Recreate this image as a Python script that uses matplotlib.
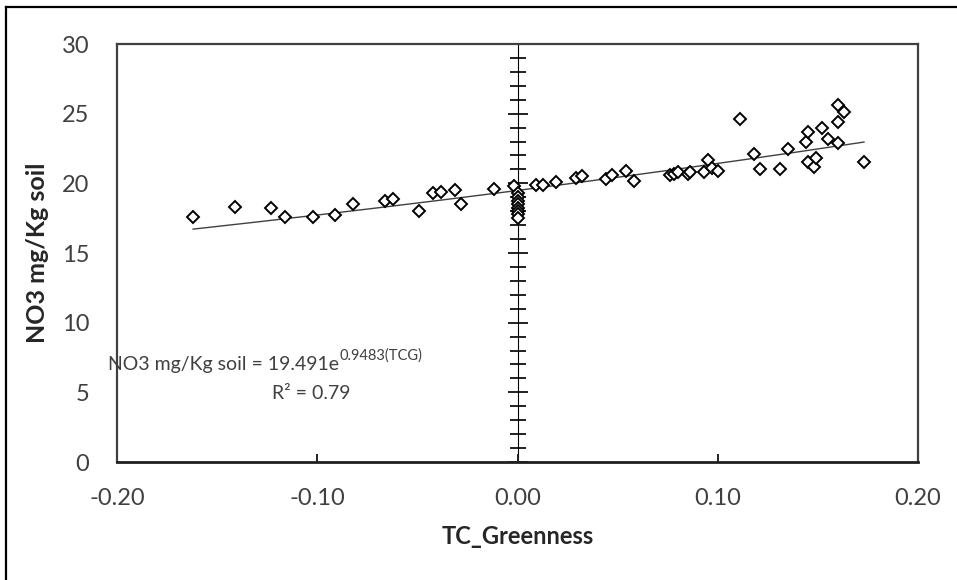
import numpy as np
import matplotlib
matplotlib.use("Agg")
import matplotlib.pyplot as plt
from matplotlib.lines import Line2D
from matplotlib.ticker import MultipleLocator

plt.rcParams['font.family'] = ['Lato', 'DejaVu Sans']

# TC greenness vs soil nitrate
tcg = [-0.162, -0.141, -0.123, -0.116, -0.102, -0.091, -0.082, -0.066, -0.062,
       -0.049, -0.042, -0.038, -0.031, -0.028, -0.012, -0.002,
       0.000, 0.000, 0.000, 0.000, 0.000, 0.000, 0.000, 0.000,
       0.009, 0.0125, 0.019, 0.029, 0.032, 0.044, 0.047, 0.054, 0.058,
       0.076, 0.078, 0.080, 0.085, 0.086, 0.093, 0.095, 0.097, 0.100,
       0.111, 0.118, 0.121, 0.131, 0.135, 0.144, 0.145, 0.145, 0.148, 0.149,
       0.152, 0.155, 0.160, 0.163, 0.160, 0.160, 0.173]
no3 = [17.6, 18.3, 18.2, 17.6, 17.6, 17.7, 18.5, 18.7, 18.9,
       18.0, 19.3, 19.4, 19.5, 18.5, 19.6, 19.8,
       19.3, 19.0, 18.7, 18.5, 18.2, 18.0, 17.8, 17.5,
       19.9, 19.9, 20.1, 20.4, 20.5, 20.3, 20.6, 20.9, 20.2,
       20.6, 20.7, 20.8, 20.7, 20.8, 20.8, 21.7, 21.1, 20.9,
       24.6, 22.1, 21.0, 21.0, 22.5, 23.0, 23.7, 21.5, 21.2, 21.8,
       24.0, 23.2, 25.6, 25.1, 24.4, 22.9, 21.5]

# exponential fit y = a*exp(b*x)
a_fit = 19.491
b_fit = 0.9483
r2 = 0.79

xticks = [-0.20, -0.10, 0.00, 0.10, 0.20]
yticks = [0, 5, 10, 15, 20, 25, 30]

fig = plt.figure(figsize=(9.57, 5.8), dpi=100)
ax = fig.add_axes([0.1223, 0.2034, 0.8370, 0.7207])

ax.plot(tcg, no3, linestyle='none', marker='D', markersize=6.3,
        markerfacecolor='white', markeredgecolor='black', markeredgewidth=1.4,
        zorder=4)

xf = np.linspace(min(tcg), max(tcg), 200)
ax.plot(xf, a_fit * np.exp(b_fit * xf), color='#404040', lw=1.0, zorder=3)

ax.set_xlim(-0.2, 0.2)
ax.set_ylim(0, 30)
ax.set_xticks(xticks)
ax.set_xticklabels(['%.2f' % v for v in xticks])
ax.set_yticks(yticks)

for s in ['left', 'right', 'top']:
    ax.spines[s].set_color('#404040')
    ax.spines[s].set_linewidth(1.6)
ax.spines['bottom'].set_color('#202020')
ax.spines['bottom'].set_linewidth(2.0)

ax.tick_params(axis='y', length=0, pad=20, labelsize=17, labelcolor='#404040')
ax.tick_params(axis='x', direction='in', length=6, width=1.4, color='#202020',
               pad=19, labelsize=17, labelcolor='#404040')

# vertical axis crossing at x = 0
sec = ax.secondary_yaxis(0.5)
sec.spines['left'].set_linewidth(1.8)
sec.spines['left'].set_color('#202020')
sec.yaxis.set_major_locator(MultipleLocator(5))
sec.yaxis.set_minor_locator(MultipleLocator(1))
sec.tick_params(which='major', direction='inout', length=14, width=1.4,
                color='#202020', labelleft=False, labelright=False)
sec.tick_params(which='minor', direction='inout', length=12, width=1.4,
                color='#202020')

ax.set_xlabel('TC_Greenness', fontsize=17, fontweight='bold', color='#262626',
              labelpad=11)
ax.set_ylabel('NO3 mg/Kg soil', fontsize=18, fontweight='bold', color='#262626',
              labelpad=9)

eq = ax.text(-0.2045, 6.6, 'NO3 mg/Kg soil = 19.491e',
             fontsize=14, color='#404040', ha='left', va='baseline', zorder=5)
ax.annotate('0.9483(TCG)', xy=(1.0, 0.62), xycoords=eq, fontsize=10.5,
            color='#404040', ha='left', va='bottom', zorder=5)
ax.text(-0.103, 4.5, 'R\u00b2 = %.2f' % r2,
        fontsize=14, color='#404040', ha='center', va='baseline', zorder=5)

# outer border
fig.add_artist(Line2D([6, 6], [0, 573], transform=None, color='black', lw=1.6))
fig.add_artist(Line2D([6, 957], [573, 573], transform=None, color='black', lw=1.6))

fig.savefig('out.png', dpi=100)
